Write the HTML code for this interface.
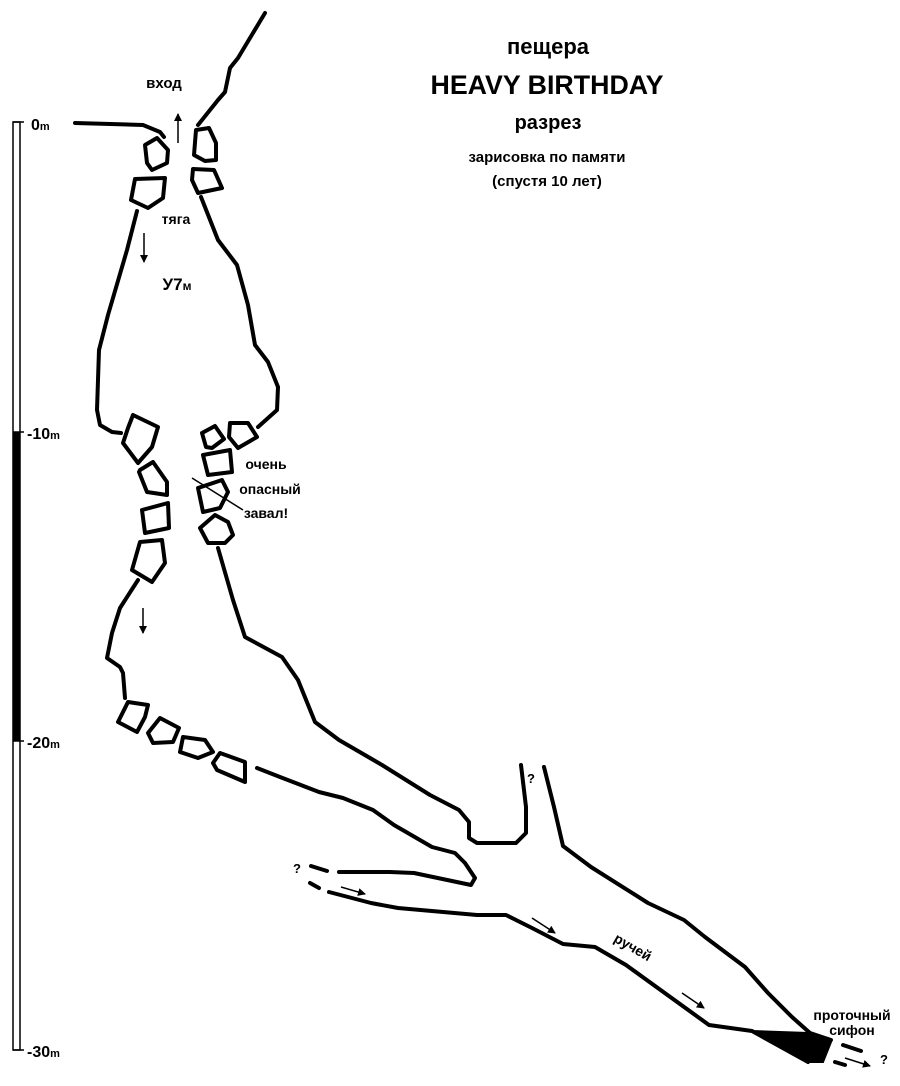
<!DOCTYPE html>
<html><head><meta charset="utf-8"><style>html,body{margin:0;padding:0;background:#fff}svg{display:block}</style></head><body>
<svg width="900" height="1086" viewBox="0 0 900 1086" xmlns="http://www.w3.org/2000/svg" font-family="Liberation Sans, sans-serif" font-weight="bold">
<defs><marker id="ah" markerWidth="8" markerHeight="8" refX="7" refY="4" orient="auto" markerUnits="userSpaceOnUse"><path d="M0,0 L8,4 L0,8 Z" fill="#000"/></marker></defs>
<!-- scale bar -->
<rect x="13" y="122" width="7" height="928" fill="#fff" stroke="#000" stroke-width="1.5"/>
<rect x="13" y="432" width="7" height="309" fill="#000"/>
<g stroke="#000" stroke-width="1.5"><line x1="13" y1="122" x2="24" y2="122"/><line x1="13" y1="432" x2="24" y2="432"/><line x1="13" y1="741" x2="24" y2="741"/><line x1="13" y1="1050" x2="24" y2="1050"/></g>
<g font-size="16" fill="#000">
<text x="31" y="130">0<tspan font-size="11">m</tspan></text>
<text x="27" y="439">-10<tspan font-size="11">m</tspan></text>
<text x="27" y="748">-20<tspan font-size="11">m</tspan></text>
<text x="27" y="1057">-30<tspan font-size="11">m</tspan></text>
</g>
<!-- titles -->
<g text-anchor="middle" fill="#000">
<text x="548" y="54" font-size="22">пещера</text>
<text x="547" y="94" font-size="27" textLength="233" lengthAdjust="spacingAndGlyphs">HEAVY BIRTHDAY</text>
<text x="548" y="129" font-size="20">разрез</text>
<text x="547" y="162" font-size="15">зарисовка по памяти</text>
<text x="547" y="186" font-size="15">(спустя 10 лет)</text>
<text x="164" y="88" font-size="15">вход</text>
<text x="176" y="224" font-size="14">тяга</text>
<text x="177" y="290" font-size="17">У7<tspan font-size="12">м</tspan></text>
<text x="266" y="469" font-size="14">очень</text>
<text x="270" y="494" font-size="14">опасный</text>
<text x="266" y="518" font-size="14">завал!</text>
<text x="852" y="1020" font-size="14">проточный</text>
<text x="852" y="1035" font-size="14">сифон</text>
<text x="531" y="783" font-size="13">?</text>
<text x="297" y="873" font-size="13">?</text>
<text x="884" y="1064" font-size="13">?</text>
<text x="633" y="952" font-size="14" transform="rotate(30 633 947)">ручей</text>
</g>
<g fill="none" stroke="#000" stroke-width="4" stroke-linejoin="round" stroke-linecap="round">
<polyline points="75,123 143,125 160,132 164,137"/>
<polyline points="265,13 238,58 230,68 225,92 218,100 198,125"/>
<polygon points="145,145 157,138 168,150 167,163 152,170 147,163"/>
<polygon points="196,130 209,128 216,143 216,160 205,161 194,155"/>
<polygon points="135,179 165,178 163,198 148,208 131,200"/>
<polygon points="193,169 214,170 222,188 198,193 192,180"/>
<polyline points="137,211 127,250 108,315 99,350 97,410 100,425 112,432 121,433"/>
<polyline points="201,197 218,240 237,265 248,305 255,345 268,362 278,387 277,410 258,427"/>
<polygon points="133,415 158,427 152,447 138,463 123,443 128,428"/>
<polygon points="140,470 153,462 167,482 167,495 147,492 139,472"/>
<polygon points="142,510 168,503 169,528 145,533"/>
<polygon points="140,542 162,540 165,563 152,582 132,570"/>
<polyline points="138,580 120,608 112,633 107,658 120,667 123,673 125,698"/>
<polygon points="128,702 148,705 145,717 137,732 118,722"/>
<polygon points="160,718 179,728 173,742 153,743 148,733"/>
<polygon points="183,737 205,740 213,752 198,758 180,752"/>
<polygon points="220,753 245,762 245,782 217,770 213,763"/>
<polygon points="202,433 215,426 224,439 212,448 206,447"/>
<polygon points="230,423 248,423 257,437 238,448 229,437"/>
<polygon points="203,455 230,450 232,472 208,475"/>
<polygon points="198,488 222,480 228,492 220,508 203,512"/>
<polygon points="200,528 215,515 228,522 233,535 225,543 208,543"/>
<polyline points="218,548 233,600 245,637 282,657 298,680 315,722 339,740 382,765 430,795 459,810 469,822 469,838 477,843 516,843 526,833 526,807 521,765"/>
<polyline points="544,767 554,807 563,846 591,867 648,903 684,920 705,937 745,967 768,993 792,1017 810,1033 831,1040"/>
<polyline points="257,768 280,777 319,792 343,798 373,810 394,825 432,847 455,853 465,863 475,878 471,885 414,873 390,872 339,872"/>
<line x1="311" y1="866" x2="327" y2="871"/>
<line x1="310" y1="883" x2="319" y2="888"/>
<polyline points="329,892 371,903 398,908 477,915 506,915 532,928 563,944 595,947 626,965 709,1025 752,1031 808,1062"/>
<line x1="843" y1="1045" x2="861" y2="1051"/>
<line x1="835" y1="1062" x2="845" y2="1065"/>
</g>
<polygon points="752,1031 808,1033 831,1042 823,1062 808,1062" fill="#000" stroke="#000" stroke-width="2"/>
<g stroke="#000" stroke-width="1.5" fill="none">
<line x1="178" y1="143" x2="178" y2="114" marker-end="url(#ah)"/>
<line x1="144" y1="233" x2="144" y2="262" marker-end="url(#ah)"/>
<line x1="143" y1="608" x2="143" y2="633" marker-end="url(#ah)"/>
<line x1="192" y1="478" x2="243" y2="510"/>
<line x1="341" y1="887" x2="365" y2="894" marker-end="url(#ah)"/>
<line x1="532" y1="918" x2="555" y2="933" marker-end="url(#ah)"/>
<line x1="682" y1="993" x2="704" y2="1008" marker-end="url(#ah)"/>
<line x1="845" y1="1058" x2="870" y2="1066" marker-end="url(#ah)"/>
</g>
</svg>
</body></html>
